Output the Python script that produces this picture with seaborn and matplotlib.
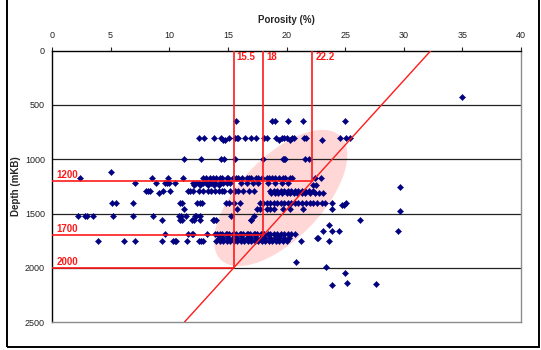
import numpy as np
import pandas as pd
import matplotlib
matplotlib.use("Agg")
import matplotlib.pyplot as plt
import seaborn as sns
from matplotlib.patches import Ellipse, Rectangle
from matplotlib.transforms import ScaledTranslation

# porosity readings (%) grouped by depth row (mKB)
por_425 = [35.0]
por_650 = [15.7, 18.8, 19.0, 20.1, 21.4, 25.0]
por_800 = [12.5, 13.0, 13.8, 14.4, 15.1, 15.6, 15.75, 15.9, 16.5, 17.0, 17.4,
           18.1, 18.3, 19.1, 19.6, 19.8, 20.0, 20.5, 20.6, 21.5, 21.7, 24.6, 25.05, 25.4]
por_820 = [14.6, 14.75, 19.4, 20.3, 23.05]
por_1000 = [11.3, 12.7, 14.4, 14.7, 15.6, 18.0, 19.7, 19.8, 19.9, 21.6, 21.9]
por_1115 = [5.0]
por_1175 = [2.4, 8.5, 9.9, 11.2, 12.9, 13.1, 13.5, 13.7, 14.0, 14.3, 14.5, 14.9, 15.0,
            15.4, 15.7, 15.9, 16.2, 16.6, 16.8, 17.0, 17.4, 17.6, 17.9, 18.3, 18.5,
            18.8, 19.0, 19.4, 19.7, 19.9, 20.3, 20.5, 22.4, 22.9]
por_1215 = [7.1, 8.9, 9.6, 9.8, 10.0, 10.5, 12.0, 12.3, 12.5, 12.9, 13.1, 13.4, 13.6,
            13.9, 14.3, 14.6, 14.9, 15.2, 16.1, 16.6, 17.1, 17.6, 18.4, 19.0, 19.6, 20.1]
por_1240 = [12.1, 12.6, 13.3, 13.8, 14.2, 22.3, 22.5]
por_1290 = [8.0, 8.2, 8.4, 9.5, 10.1, 11.6, 11.8, 12.05, 12.5, 12.9, 13.3, 13.6, 13.9,
            14.2, 14.5, 14.7, 15.2, 15.6, 15.9, 16.3, 16.8, 17.2, 18.6, 18.9, 19.2,
            19.5, 19.8, 20.1, 20.4, 20.7, 21.0, 21.3, 21.6, 21.9, 22.3]
por_1315 = [9.15, 18.7, 19.0, 19.3, 19.6, 20.0, 20.3, 20.6, 20.9, 21.3, 21.6, 22.0,
            22.4, 22.8, 23.1]
por_1400 = [5.1, 5.5, 6.9, 10.9, 11.1, 12.4, 12.6, 12.8, 14.8, 15.1, 15.5, 16.0, 17.7,
            18.0, 18.3, 18.6, 18.9, 19.2, 19.5, 19.8, 20.1, 20.4, 20.7, 21.0, 21.3,
            21.7, 22.0, 22.3, 22.6, 23.0, 23.3, 23.9, 25.1]
por_1420 = [24.7, 24.9]
por_1455 = [11.3, 15.75, 17.5, 17.7, 18.3, 18.6, 18.9, 19.7, 20.3, 21.4, 23.9]
por_1520 = [2.24, 2.8, 3.0, 3.5, 5.2, 6.9, 8.6, 10.8, 11.0, 11.4, 12.2, 12.3, 12.6,
            15.3, 17.2]
por_1557 = [9.4, 10.9, 11.1, 11.9, 12.1, 12.6, 13.7, 13.8, 14.0, 16.95, 17.0, 26.3]
por_1606 = [23.6]
por_1660 = [24.5, 23.9, 23.1, 29.5]
por_1692 = [9.6, 11.6, 11.9, 12.0, 13.2, 13.9, 14.1, 14.3, 14.5, 14.8, 14.9, 15.1,
            15.4, 15.5, 15.7, 16.0, 16.1, 16.3, 16.6, 16.7, 16.9, 17.2, 17.3, 17.5,
            17.8, 17.9, 18.1, 18.4, 18.6, 18.9, 19.2, 19.5, 19.8, 20.1, 20.4, 20.7]
por_1722 = [14.2, 14.6, 15.0, 15.4, 15.8, 16.2, 16.6, 17.0, 17.4, 17.8, 18.2, 18.6,
            19.0, 19.4, 19.8, 20.2, 22.6, 22.7]
por_1755 = [3.9, 6.1, 7.1, 9.4, 10.3, 10.5, 10.6, 11.5, 12.5, 12.7, 12.9, 14.0, 14.3,
            14.6, 14.9, 15.2, 15.5, 15.8, 16.1, 16.4, 16.7, 17.0, 17.3, 17.6, 17.9,
            18.2, 18.5, 18.8, 19.1, 19.4, 19.7, 20.0, 21.2, 23.6]
por_deep = [20.8, 23.4, 25.0, 25.2, 27.6, 23.9]
dep_deep = [1950, 1996, 2052, 2144, 2153, 2162]
por_far = [29.7, 29.7]
dep_far = [1253, 1477]

rows = [(425, por_425), (650, por_650), (800, por_800), (820, por_820),
        (1000, por_1000), (1115, por_1115), (1175, por_1175), (1215, por_1215),
        (1240, por_1240), (1290, por_1290), (1315, por_1315), (1400, por_1400),
        (1420, por_1420), (1455, por_1455), (1520, por_1520), (1557, por_1557),
        (1606, por_1606), (1660, por_1660), (1692, por_1692), (1722, por_1722),
        (1755, por_1755)]

por, dep = [], []
for d, ps in rows:
    por += ps
    dep += [d] * len(ps)
por += por_deep + por_far
dep += dep_deep + dep_far
df = pd.DataFrame({"Porosity": por, "Depth": dep})

# cut-off values
cut_por = [15.5, 18, 22.2]
cut_dep = [2000, 1700, 1200]
trend_por = [11.3, 32.3]
trend_dep = [2500, 0]

sns.set_style("white")
plt.rcParams["font.family"] = ["Liberation Sans", "DejaVu Sans"]

fig = plt.figure(figsize=(5.41, 3.5), dpi=100)
ax = fig.add_axes([0.0961, 0.080, 0.867, 0.775])
ax.set_xlim(0, 40)
ax.set_ylim(2500, 0)

# highlight ellipse drawn in screen units around the cluster
trans = fig.dpi_scale_trans + ScaledTranslation(19.5, 1357, ax.transData)
ax.add_patch(Ellipse((0, 0), 1.72, 0.82, angle=46, transform=trans,
                     facecolor="#ffd7d7", edgecolor="none", zorder=0))

for y in [500, 1000, 1500, 2000]:
    ax.axhline(y, color="#222222", lw=0.9, zorder=1)

sns.scatterplot(data=df, x="Porosity", y="Depth", marker="D", s=10,
                color="#000080", edgecolor="#000080", linewidth=0.3, ax=ax, zorder=3)

red = "#ff1a1a"
for p, d in zip(cut_por, cut_dep):
    ax.plot([p, p], [0, d], color=red, lw=1.2, zorder=4)
    ax.plot([0, p], [d, d], color=red, lw=1.4, alpha=0.85, zorder=4)
ax.plot(trend_por, trend_dep, color=red, lw=1.0, zorder=4)

for p, lab in zip(cut_por, ["15.5", "18", "22.2"]):
    ax.text(p + 0.25, 60, lab, color=red, fontsize=7, fontweight="bold",
            va="center", ha="left", zorder=5)
for d in cut_dep:
    ax.text(0.4, d - 55, str(d), color=red, fontsize=7, fontweight="bold",
            va="center", ha="left", zorder=5)

ax.xaxis.tick_top()
ax.xaxis.set_label_position("top")
ax.set_xticks(range(0, 41, 5))
ax.set_yticks(range(0, 2501, 500))
ax.tick_params(axis="both", direction="out", length=3, width=0.8, labelsize=6.5,
               colors="#222222", pad=2)
ax.tick_params(axis="x", top=True, bottom=False, pad=4.5)
ax.set_xlabel("Porosity (%)", fontsize=7, fontweight="bold", labelpad=6)
ax.set_ylabel("Depth (mKB)", fontsize=7, fontweight="bold", labelpad=3)

for side in ["top", "left"]:
    ax.spines[side].set_color("black")
    ax.spines[side].set_linewidth(1.0)
for side in ["right", "bottom"]:
    ax.spines[side].set_color("#8c8c8c")
    ax.spines[side].set_linewidth(1.0)

# outer chart frame
fig.add_artist(Rectangle((0.013, 0.008), 0.983, 1.1, transform=fig.transFigure,
                         fill=False, edgecolor="black", lw=1.4))

fig.savefig("out.png", dpi=100)
